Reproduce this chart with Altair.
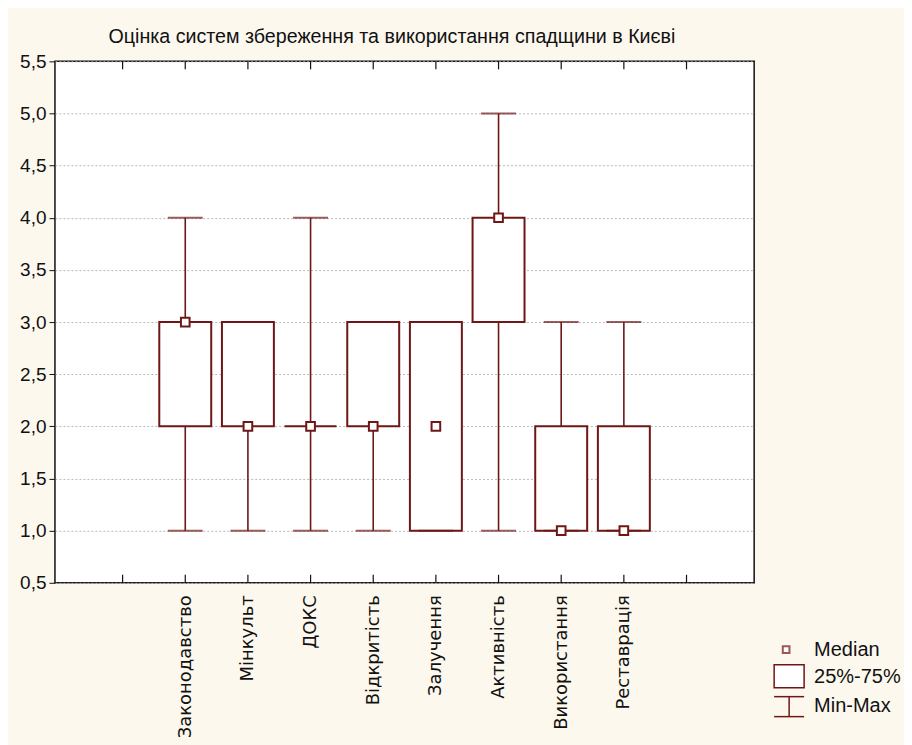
import altair as alt
import pandas as pd

categories = ["Законодавство", "Мінкульт", "ДОКС", "Відкритість", "Залучення",
              "Активність", "Використання", "Реставрація"]
mins = [1, 1, 1, 1, 1, 1, 1, 1]
q1s = [2, 2, 2, 2, 1, 3, 1, 1]
q3s = [3, 3, 2, 3, 3, 4, 2, 2]
maxs = [4, 3, 4, 3, 3, 5, 3, 3]
medians = [3, 2, 2, 2, 2, 4, 1, 1]
y_ticks = [0.5, 1.0, 1.5, 2.0, 2.5, 3.0, 3.5, 4.0, 4.5, 5.0, 5.5]
x_tick_positions = [1, 2, 3, 4, 5, 6, 7, 8, 9, 10]

df = pd.DataFrame({
    "cat": categories,
    "pos": [i + 2 for i in range(len(categories))],
    "min": mins, "q1": q1s, "q3": q3s, "max": maxs, "median": medians,
})
ticks_df = pd.DataFrame({"pos": x_tick_positions})

COL = "#6f1717"
W, H = 700, 522
FONT = "Liberation Sans"

label_arr = "[" + ",".join(["''", "''"] + ["'" + c + "'" for c in categories]) + "]"

xs = alt.Scale(domain=[0, 11], nice=False, zero=False)
ys = alt.Scale(domain=[0.5, 5.5], nice=False, zero=False)

x_axis = alt.Axis(values=list(range(2, 10)), labelExpr=label_arr + "[datum.value]",
                  labelAngle=-90, labelAlign="right", labelBaseline="middle",
                  labelFont="DejaVu Sans", labelFontSize=18, labelColor="#111",
                  labelPadding=12, ticks=False, domain=False, grid=False, title=None)
y_axis = alt.Axis(values=y_ticks, labelExpr="replace(format(datum.value, '.1f'), '.', ',')",
                  labelFont=FONT, labelFontSize=19, labelColor="#111", labelPadding=3,
                  tickSize=6, tickColor="#111", domain=False,
                  grid=True, gridDash=[2, 2], gridColor="#b8b8b8", gridWidth=1, title=None)

base = alt.Chart(df)

whisk = base.mark_rule(color=COL, strokeWidth=1.6).encode(
    x=alt.X("pos:Q", scale=xs, axis=x_axis),
    y=alt.Y("min:Q", scale=ys, axis=y_axis),
    y2="max:Q",
)
boxes = base.mark_bar(fill="white", stroke=COL, strokeWidth=2, size=52).encode(
    x=alt.X("pos:Q", scale=xs), y=alt.Y("q1:Q", scale=ys), y2="q3:Q",
)
cap_lo = base.mark_tick(color=COL, orient="horizontal", size=35, thickness=2).encode(
    x=alt.X("pos:Q", scale=xs), y=alt.Y("min:Q", scale=ys))
cap_hi = base.mark_tick(color=COL, orient="horizontal", size=35, thickness=2).encode(
    x=alt.X("pos:Q", scale=xs), y=alt.Y("max:Q", scale=ys))
med = base.mark_square(fill="white", stroke=COL, strokeWidth=2, size=75, opacity=1).encode(
    x=alt.X("pos:Q", scale=xs), y=alt.Y("median:Q", scale=ys))

tick_bot = alt.Chart(ticks_df).mark_rule(color="#111", strokeWidth=1.2).encode(
    x=alt.X("pos:Q", scale=xs), y=alt.value(H), y2=alt.value(H - 8))
tick_top = alt.Chart(ticks_df).mark_rule(color="#111", strokeWidth=1.2).encode(
    x=alt.X("pos:Q", scale=xs), y=alt.value(0), y2=alt.value(8))

one = alt.Data(values=[{}])
lg_sq = alt.Chart(one).mark_square(fill="white", stroke=COL, strokeWidth=2, size=45).encode(
    x=alt.value(732), y=alt.value(589))
lg_rect = alt.Chart(one).mark_rect(fill="white", stroke=COL, strokeWidth=1.5).encode(
    x=alt.value(720), x2=alt.value(750), y=alt.value(604), y2=alt.value(627))
lg_v = alt.Chart(one).mark_rule(color=COL, strokeWidth=1.5).encode(
    x=alt.value(735), y=alt.value(636), y2=alt.value(656))
lg_c1 = alt.Chart(one).mark_rule(color=COL, strokeWidth=1.5).encode(
    x=alt.value(720), x2=alt.value(750), y=alt.value(636))
lg_c2 = alt.Chart(one).mark_rule(color=COL, strokeWidth=1.5).encode(
    x=alt.value(720), x2=alt.value(750), y=alt.value(656))
lg_text = alt.Chart(alt.Data(values=[
    {"t": "Median", "yy": 589}, {"t": "25%-75%", "yy": 616}, {"t": "Min-Max", "yy": 645}
])).mark_text(align="left", baseline="middle", font=FONT, fontSize=20, color="#111").encode(
    x=alt.value(760), y=alt.Y("yy:Q", scale=None), text="t:N")

chart = alt.layer(
    whisk, boxes, cap_lo, cap_hi, med, tick_bot, tick_top,
    lg_sq, lg_rect, lg_v, lg_c1, lg_c2, lg_text
).properties(
    width=W, height=H,
    title=alt.TitleParams("Оцінка систем збереження та використання спадщини в Києві",
                          anchor="start", dx=89, offset=6, font=FONT, fontSize=19.7,
                          fontWeight="normal", color="#111"),
    autosize=alt.AutoSizeParams(type="none"),
    padding={"left": 47, "top": 53, "right": 150, "bottom": 176},
    background="#fcf8ee",
).configure_view(
    stroke="#111", strokeWidth=1.5, fill="white"
)

chart.save("out.html", embed_options={"renderer": "svg", "actions": False})
